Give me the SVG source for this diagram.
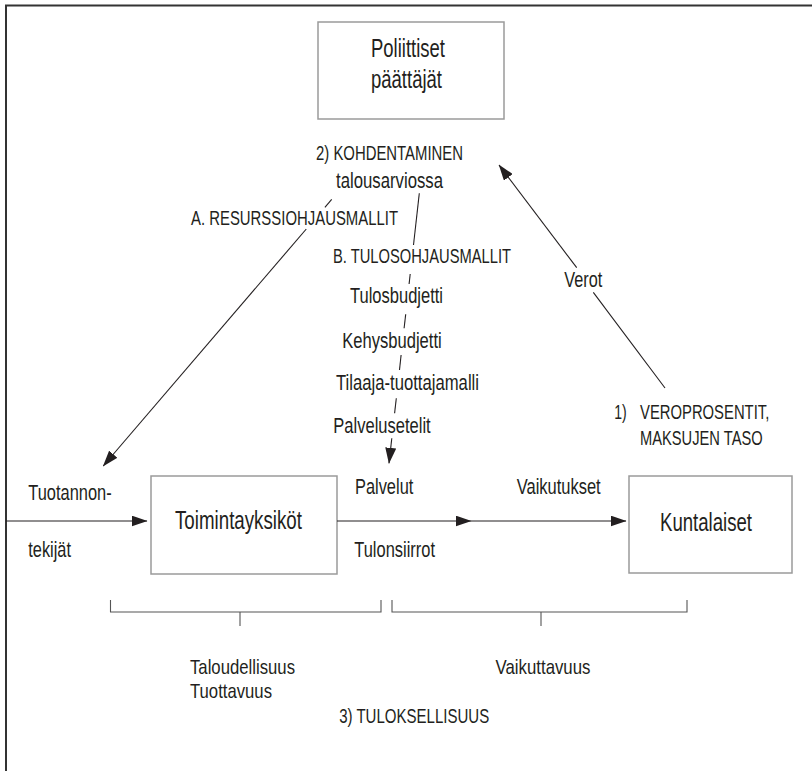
<svg xmlns="http://www.w3.org/2000/svg" width="812" height="771" viewBox="0 0 812 771">
  <style>
    .frame { fill: none; stroke: #333; stroke-width: 2; }
    .box { fill: #fff; stroke: #9a9a9a; stroke-width: 1.5; }
    .ln { fill: none; stroke: #231f20; stroke-width: 1.1; }
    .br { fill: none; stroke: #555; stroke-width: 1.1; }
    text { font-family: "Liberation Sans Narrow", "Liberation Sans", Arial, sans-serif; fill: #231f20; }
    .big { font-size: 25px; }
    .lbl { font-size: 22px; }
    .sm { font-size: 21px; }
    .cap { font-size: 19.5px; }
  </style>
  <defs>
    <marker id="arrow" markerUnits="userSpaceOnUse" markerWidth="16" markerHeight="11" refX="15.5" refY="5.5" orient="auto">
      <path d="M0,0 L16,5.5 L0,11 Z" fill="#231f20"/>
    </marker>
  </defs>

  <rect width="812" height="771" fill="#fff"/>

  <!-- outer frame: top and left edges -->
  <path class="frame" d="M6,771 V5.5 H812"/>

  <!-- nodes -->
  <g id="poliittiset">
    <rect class="box" x="318" y="22" width="186" height="97"/>
    <text class="big" x="371" y="57" textLength="74" lengthAdjust="spacingAndGlyphs">Poliittiset</text>
    <text class="big" x="371" y="88" textLength="71" lengthAdjust="spacingAndGlyphs">päättäjät</text>
  </g>

  <g id="toimintayksikot">
    <rect class="box" x="151" y="476" width="186" height="98"/>
    <text class="big" x="175" y="529" textLength="127" lengthAdjust="spacingAndGlyphs">Toimintayksiköt</text>
  </g>

  <g id="kuntalaiset">
    <rect class="box" x="629" y="476" width="163" height="97"/>
    <text class="big" x="660" y="530.5" textLength="92" lengthAdjust="spacingAndGlyphs">Kuntalaiset</text>
  </g>

  <!-- connectors -->
  <g id="connectors">
    <!-- production factors into the units -->
    <line class="ln" x1="6" y1="521" x2="147" y2="521" marker-end="url(#arrow)"/>
    <!-- services / transfers -->
    <line class="ln" x1="337" y1="521" x2="471" y2="521" marker-end="url(#arrow)"/>
    <!-- effects to residents -->
    <line class="ln" x1="471" y1="521" x2="626" y2="521" marker-end="url(#arrow)"/>

    <!-- A: resource steering -->
    <line class="ln" x1="331.7" y1="199.3" x2="324.9" y2="207.3"/>
    <line class="ln" x1="306.3" y1="229" x2="103.2" y2="466" marker-end="url(#arrow)"/>

    <!-- B: result steering, broken by its list of labels -->
    <line class="ln" x1="419.3" y1="193.3" x2="413.5" y2="245"/>
    <line class="ln" x1="410.2" y1="274" x2="409.1" y2="284"/>
    <line class="ln" x1="405.7" y1="314.3" x2="404.1" y2="328.3"/>
    <line class="ln" x1="401.1" y1="355" x2="399.5" y2="370"/>
    <line class="ln" x1="396.3" y1="398.3" x2="394.6" y2="413.3"/>
    <line class="ln" x1="391.8" y1="438.3" x2="389" y2="463.3" marker-end="url(#arrow)"/>

    <!-- taxes back to decision makers -->
    <line class="ln" x1="665" y1="388" x2="593.3" y2="292.3"/>
    <line class="ln" x1="576.7" y1="267.7" x2="499" y2="165" marker-end="url(#arrow)"/>

    <!-- brackets -->
    <path class="br" d="M110.5,600 V612 H381 V600 M240,612 V626"/>
    <path class="br" d="M392,600 V612 H687 V600 M541,612 V626"/>
  </g>

  <!-- labels -->
  <g id="labels">
    <text class="cap" x="316" y="160" textLength="147" lengthAdjust="spacingAndGlyphs">2) KOHDENTAMINEN</text>
    <text class="lbl" x="336" y="188" textLength="107" lengthAdjust="spacingAndGlyphs">talousarviossa</text>
    <text class="cap" x="191" y="225" textLength="207" lengthAdjust="spacingAndGlyphs">A. RESURSSIOHJAUSMALLIT</text>
    <text class="cap" x="333" y="262.7" textLength="178" lengthAdjust="spacingAndGlyphs">B. TULOSOHJAUSMALLIT</text>
    <text class="lbl" x="350" y="303.3" textLength="93" lengthAdjust="spacingAndGlyphs">Tulosbudjetti</text>
    <text class="lbl" x="342.3" y="348.3" textLength="99.4" lengthAdjust="spacingAndGlyphs">Kehysbudjetti</text>
    <text class="lbl" x="336" y="390" textLength="143" lengthAdjust="spacingAndGlyphs">Tilaaja-tuottajamalli</text>
    <text class="lbl" x="333.3" y="433.3" textLength="97.4" lengthAdjust="spacingAndGlyphs">Palvelusetelit</text>
    <text class="lbl" x="564.3" y="286.7" textLength="38" lengthAdjust="spacingAndGlyphs">Verot</text>
    <text class="cap" x="614.3" y="419.3" textLength="12.5" lengthAdjust="spacingAndGlyphs">1)</text>
    <text class="cap" x="640" y="419.3" textLength="129.3" lengthAdjust="spacingAndGlyphs">VEROPROSENTIT,</text>
    <text class="cap" x="640" y="445" textLength="122.7" lengthAdjust="spacingAndGlyphs">MAKSUJEN TASO</text>
    <text class="lbl" x="28.3" y="500" textLength="83.4" lengthAdjust="spacingAndGlyphs">Tuotannon-</text>
    <text class="lbl" x="28.3" y="556.7" textLength="42.7" lengthAdjust="spacingAndGlyphs">tekijät</text>
    <text class="lbl" x="355" y="494.3" textLength="58.3" lengthAdjust="spacingAndGlyphs">Palvelut</text>
    <text class="lbl" x="354.3" y="557.3" textLength="80.7" lengthAdjust="spacingAndGlyphs">Tulonsiirrot</text>
    <text class="lbl" x="516.7" y="494.3" textLength="84" lengthAdjust="spacingAndGlyphs">Vaikutukset</text>
    <text class="sm" x="190" y="674" textLength="105" lengthAdjust="spacingAndGlyphs">Taloudellisuus</text>
    <text class="sm" x="190" y="698" textLength="82" lengthAdjust="spacingAndGlyphs">Tuottavuus</text>
    <text class="sm" x="495.6" y="674" textLength="94.8" lengthAdjust="spacingAndGlyphs">Vaikuttavuus</text>
    <text class="cap" x="339.2" y="723" textLength="150" lengthAdjust="spacingAndGlyphs">3) TULOKSELLISUUS</text>
  </g>
</svg>
